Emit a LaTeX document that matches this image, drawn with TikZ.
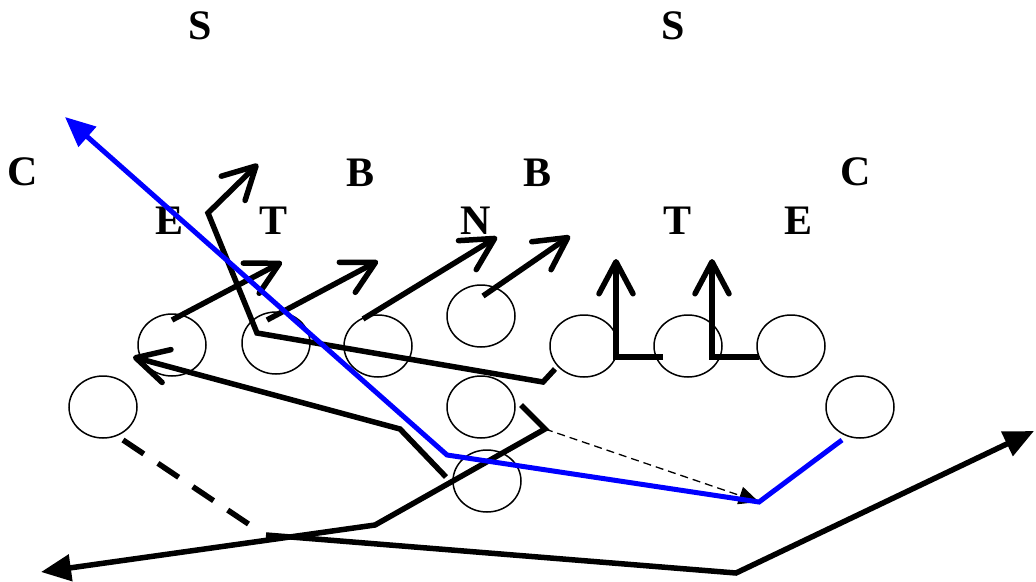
\documentclass[tikz,border=0pt]{standalone}
\usepackage{fontspec}
\setmainfont{Liberation Serif}
\usetikzlibrary{arrows.meta,shapes.geometric}
\definecolor{routeblue}{RGB}{0,0,255}
\begin{document}
\begin{tikzpicture}[x=1pt,y=-1pt,
  player/.style={draw, ellipse, line width=1.5pt, minimum width=68pt, minimum height=62pt, inner sep=0pt},
  lab/.style={font=\fontsize{42}{42}\selectfont\bfseries, inner sep=0pt},
  route/.style={line width=5.5pt},
  bluer/.style={line width=5pt, draw=routeblue},
  openhead/.style={-{Straight Barb[length=32pt,width=34pt,round]}},
  fillhead/.style={-{Triangle[length=30pt,width=26pt]}},
  thindash/.style={line width=1.3pt, dash pattern=on 8pt off 5pt, -{Triangle[length=20pt,width=18pt]}},
  thickdash/.style={line width=5.5pt, dash pattern=on 25pt off 17pt}]
\useasboundingbox (0,0) rectangle (1036,581);
% labels
\node[lab] (s1) at (200,26) {S};
\node[lab] (s2) at (673,26) {S};
\node[lab] (c1) at (23,172) {C};
\node[lab] (b1) at (361,173) {B};
\node[lab] (b2) at (538,173) {B};
\node[lab] (c2) at (856,172) {C};
\node[lab] (e1) at (170,221) {E};
\node[lab] (t1) at (274,221) {T};
\node[lab] (n1) at (476,221) {N};
\node[lab] (t2) at (677,221) {T};
\node[lab] (e2) at (798,221) {E};
% players
\node[player] (o1) at (172,345) {};
\node[player] (o2) at (276,343) {};
\node[player] (o3) at (378,346) {};
\node[player] (o4) at (481,316) {};
\node[player] (o5) at (584,346) {};
\node[player] (o6) at (688,346) {};
\node[player] (o7) at (791,346) {};
\node[player] (o8) at (860,407) {};
\node[player] (o9) at (103,407) {};
\node[player] (o10) at (481,407) {};
\node[player] (o11) at (487,481) {};
% route points
\coordinate (pa) at (521,405);
\coordinate (pb) at (545,429);
\coordinate (pc) at (375,525);
\coordinate (pd) at (41,572);
\coordinate (qa) at (446,477);
\coordinate (qb) at (400,429);
\coordinate (qc) at (133,357);
\coordinate (ra) at (555,369);
\coordinate (rb) at (543,382);
\coordinate (rc) at (257,333);
\coordinate (rd) at (208,213);
\coordinate (re) at (258,164);
\coordinate (ba) at (266,535);
\coordinate (bb) at (736,573);
\coordinate (bc) at (1034,431);
\coordinate (da) at (123,440);
\coordinate (db) at (250,525);
\coordinate (ua) at (842,440);
\coordinate (ub) at (759,502);
\coordinate (uc) at (447,455);
\coordinate (ud) at (65,117);
% black routes
\draw[route, fillhead] (pa) -- (pb) -- (pc) -- (pd);
\draw[route, openhead] (qa) -- (qb) -- (qc);
\draw[route, openhead] (ra) -- (rb) -- (rc) -- (rd) -- (re);
\draw[route, fillhead] (ba) -- (bb) -- (bc);
\draw[thickdash] (da) -- (db);
\draw[route, openhead] (172,320) coordinate (a1) -- (282,262) coordinate (a1t);
\draw[route, openhead] (267,320) coordinate (a2) -- (378,261) coordinate (a2t);
\draw[route, openhead] (363,319) coordinate (a3) -- (497,237) coordinate (a3t);
\draw[route, openhead] (483,296) coordinate (a4) -- (570,236) coordinate (a4t);
\draw[route, openhead] (663,357) coordinate (v1) -- (616,357) -- (616,259) coordinate (v1t);
\draw[route, openhead] (759,357) coordinate (v2) -- (712,357) -- (712,259) coordinate (v2t);
\draw[thindash] (pb) -- (ub);
% blue route
\draw[bluer, fillhead] (ua) -- (ub) -- (uc) -- (ud);
\end{tikzpicture}
\end{document}
